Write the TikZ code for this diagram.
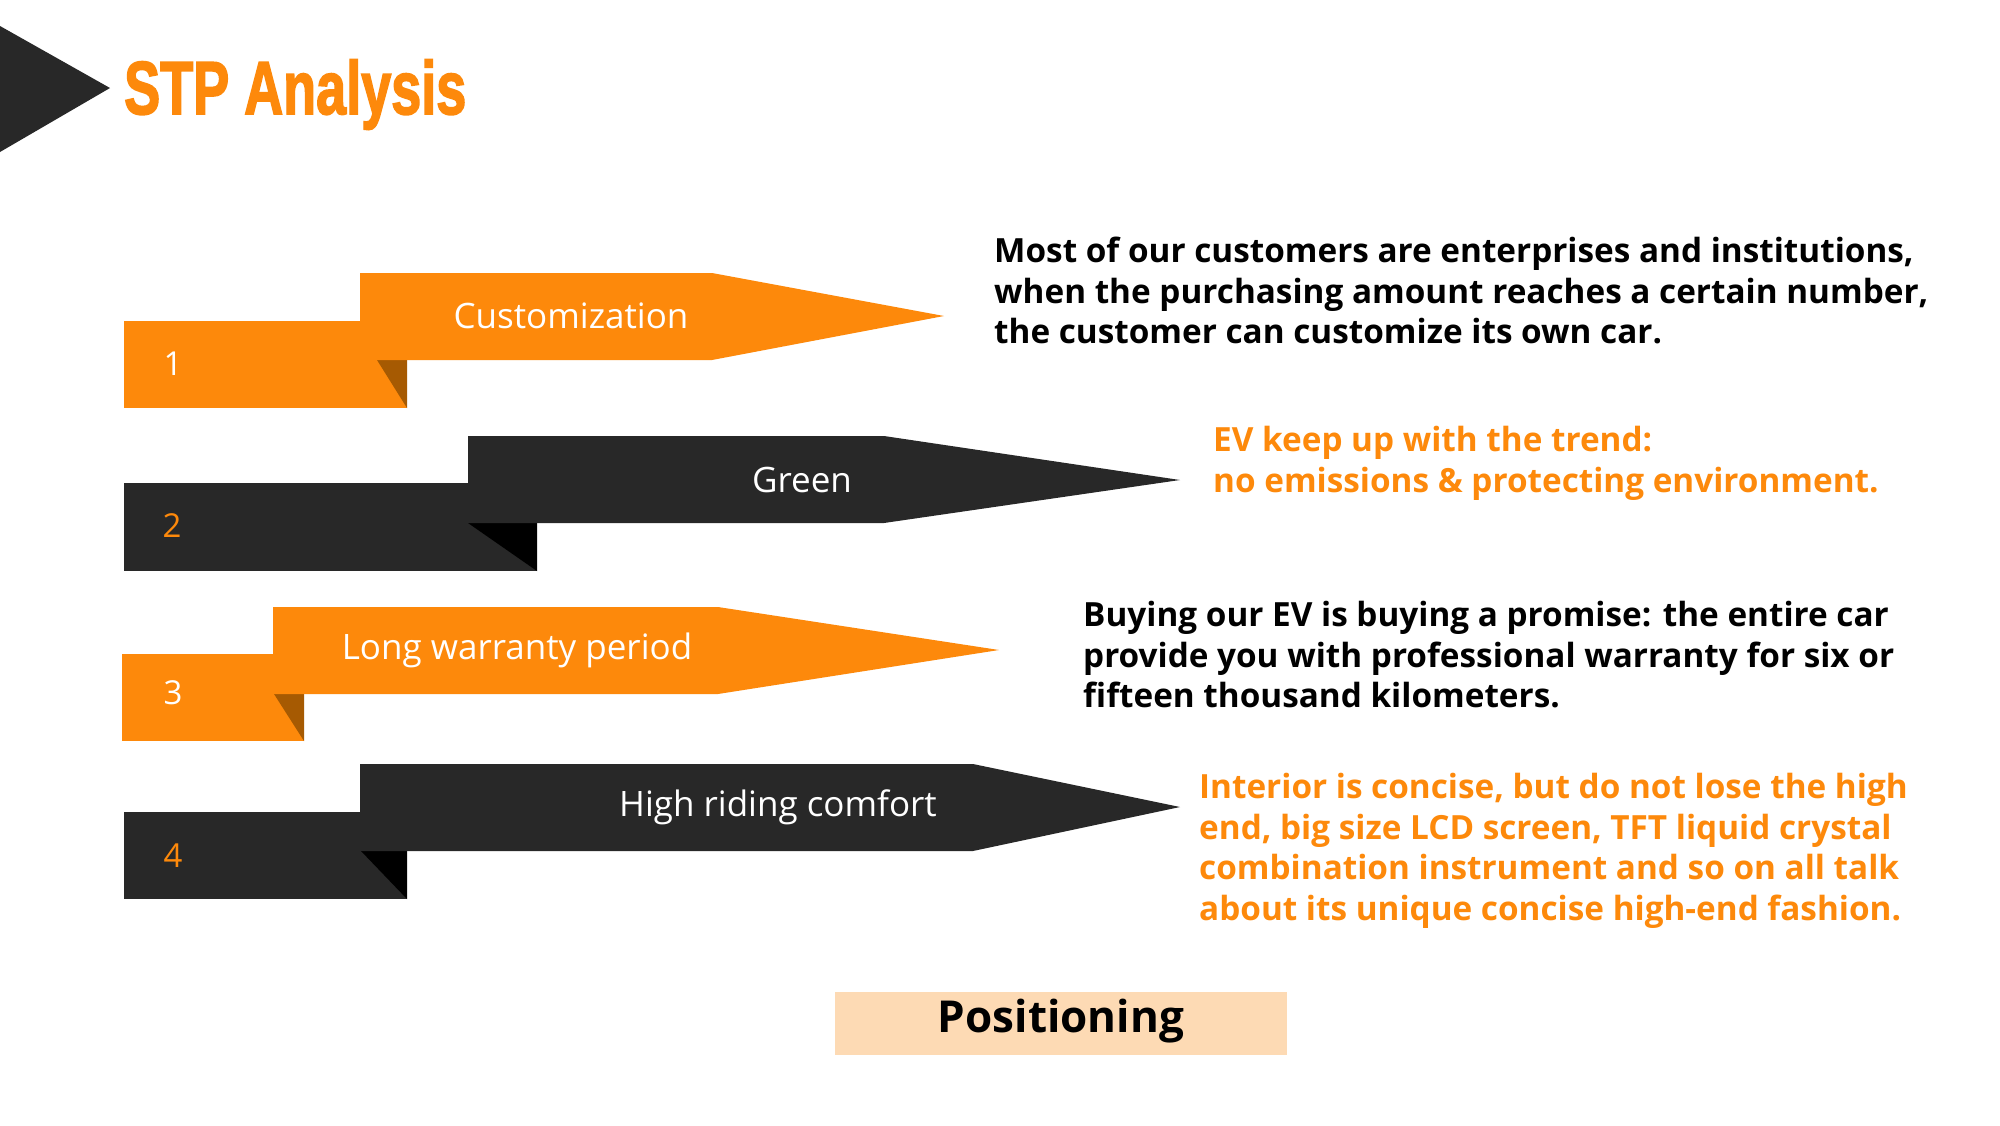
\documentclass[tikz,border=0pt]{standalone}
\usepackage{fontspec}
\setmainfont{Open Sans}
\newfontfamily\headfont{Liberation Sans Bold}[FakeBold=2.5]
\definecolor{stporange}{HTML}{FD890B}
\definecolor{stpdark}{HTML}{282828}
\definecolor{foldorange}{HTML}{A65A02}
\definecolor{folddark}{HTML}{000000}
\definecolor{peach}{HTML}{FDDAB4}
\tikzset{
  ribbontext/.style={text=white, inner sep=0, font=\fontsize{35}{40}\selectfont},
  numtext/.style={inner sep=0, font=\fontsize{33}{38}\selectfont},
  bodytext/.style={inner sep=0, anchor=north west, align=left,
    font=\bfseries\fontsize{33.3}{40.5}\selectfont},
}
\begin{document}
\begin{tikzpicture}[x=1pt,y=-1pt]
\useasboundingbox[fill=white] (0,0) rectangle (2000,1125);

% heading marker and title
\fill[stpdark] (0,26) -- (110,88) -- (0,152) -- cycle;
\node[anchor=base west, inner sep=0, text=stporange] (title) at (124,114)
  {\scalebox{0.72}[1]{\headfont\fontsize{75}{80}\selectfont STP Analysis}};

% ribbon 1
\fill[stporange] (124,321) rectangle (407,408);
\fill[foldorange] (377,360) -- (407,360) -- (407,408) -- cycle;
\fill[stporange] (360,273) -- (712,273) -- (944,316) -- (712,360) -- (360,360) -- cycle;
\node[numtext, text=white] (n1) at (173,364) {1};
\node[ribbontext] (r1) at (571,316) {Customization};

% ribbon 2
\fill[stpdark] (124,483) rectangle (537,571);
\fill[folddark] (468,523) -- (537,523) -- (537,571) -- cycle;
\fill[stpdark] (468,436) -- (884,436) -- (1180,480) -- (884,523) -- (468,523) -- cycle;
\node[numtext, text=stporange] (n2) at (172,526) {2};
\node[ribbontext] (r2) at (802,480) {Green};

% ribbon 3
\fill[stporange] (122,654) rectangle (304,741);
\fill[foldorange] (274,694) -- (304,694) -- (304,741) -- cycle;
\fill[stporange] (273,607) -- (718,607) -- (999,650) -- (718,694) -- (273,694) -- cycle;
\node[numtext, text=white] (n3) at (173,693) {3};
\node[ribbontext] (r3) at (517,650) {Long warranty period};

% ribbon 4
\fill[stpdark] (124,812) rectangle (407,899);
\fill[folddark] (361,851) -- (407,851) -- (407,899) -- cycle;
\fill[stpdark] (360,764) -- (973,764) -- (1180,807) -- (973,851) -- (360,851) -- cycle;
\node[numtext, text=stporange] (n4) at (173,856) {4};
\node[ribbontext] (r4) at (778,807) {High riding comfort};

% descriptions
\node[bodytext, text=black] (d1) at (994,237)
  {Most of our customers are enterprises and institutions,\\
   when the purchasing amount reaches a certain number,\\
   the customer can customize its own car.};
\node[bodytext, text=stporange] (d2) at (1213,426)
  {EV keep up with the trend:\\
   no emissions \& protecting environment.};
\node[bodytext, text=black] (d3) at (1083,601)
  {Buying our EV is buying a promise: the entire car\\
   provide you with professional warranty for six or\\
   fifteen thousand kilometers.};
\node[bodytext, text=stporange] (d4) at (1199,773)
  {Interior is concise, but do not lose the high\\
   end, big size LCD screen, TFT liquid crystal\\
   combination instrument and so on all talk\\
   about its unique concise high-end fashion.};

% positioning tag
\fill[peach] (835,992) rectangle (1287,1055);
\node[inner sep=0, font=\bfseries\fontsize{44}{50}\selectfont] (pos) at (1061,1021) {Positioning};
\end{tikzpicture}
\end{document}
